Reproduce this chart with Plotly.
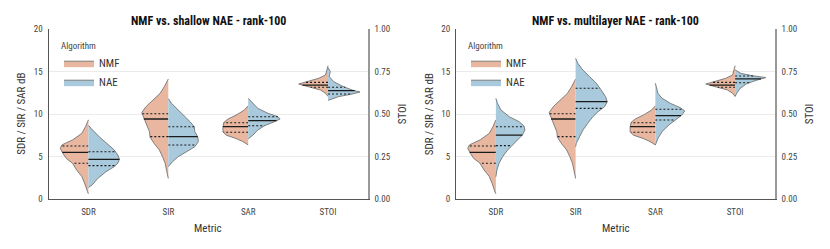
import numpy as np
import plotly.graph_objects as go

# ---------------- data ----------------
CATEGORIES = ["SDR", "SIR", "SAR", "STOI"]
ALGORITHMS = ["NMF", "NAE"]
PANEL_TITLES = ["NMF vs. shallow NAE - rank-100", "NMF vs. multilayer NAE - rank-100"]
Y_TITLE = "SDR / SIR / SAR dB"
Y2_TITLE = "STOI"
X_TITLE = "Metric"
LEGEND_TITLE = "Algorithm"
Y_TICKS = [0, 5, 10, 15, 20]
STOI_TICKS = [0.0, 0.25, 0.5, 0.75, 1.0]

# density profiles (value levels, relative density)
NMF_SDR_Y = [0.65, 0.9, 1.9, 2.7, 3.45, 4.25, 4.8, 5.4, 6.0, 6.4, 7.0, 7.75, 8.55, 9.35]
NMF_SDR_D = [0, 0.03, 0.12, 0.21, 0.37, 0.5, 0.69, 0.8, 0.88, 0.83, 0.49, 0.21, 0.09, 0]
NMF_SIR_Y = [2.45, 3.25, 4.25, 5.0, 5.8, 6.6, 7.3, 7.95, 8.75, 9.55, 10.2, 10.9, 11.7, 12.45, 13.25, 14.0, 14.15]
NMF_SIR_D = [0, 0.05, 0.1, 0.18, 0.28, 0.45, 0.57, 0.59, 0.68, 0.78, 0.83, 0.7, 0.47, 0.26, 0.125, 0.02, 0]
NMF_SAR_Y = [6.4, 6.8, 7.15, 7.55, 7.95, 8.55, 9.05, 9.45, 9.9, 10.5, 11.0]
NMF_SAR_D = [0, 0.17, 0.38, 0.69, 0.79, 0.79, 0.76, 0.63, 0.38, 0.12, 0]
NMF_STOI_Y = [0.605, 0.624, 0.643, 0.662, 0.678, 0.692, 0.712, 0.731, 0.761, 0.786]
NMF_STOI_D = [0, 0.08, 0.24, 0.6, 0.92, 0.66, 0.29, 0.08, 0.03, 0]
NMF_QUARTILES = [[4.24, 5.53, 6.27], [7.37, 9.45, 10.07], [7.88, 8.54, 9.01], [0.659, 0.672, 0.688]]

SNAE_SDR_Y = [1.4, 1.7, 2.45, 3.25, 3.85, 4.25, 4.7, 5.2, 5.8, 6.6, 7.35, 8.35, 8.7]
SNAE_SDR_D = [0, 0.12, 0.29, 0.55, 0.81, 0.92, 0.97, 0.92, 0.81, 0.55, 0.34, 0.08, 0]
SNAE_SIR_Y = [3.84, 4.42, 5.01, 5.6, 6.19, 6.78, 7.37, 7.95, 8.54, 9.13, 9.72, 10.5, 11.29, 11.85]
SNAE_SIR_D = [0, 0.13, 0.31, 0.57, 0.83, 0.94, 0.92, 0.83, 0.81, 0.68, 0.52, 0.31, 0.10, 0]
SNAE_SAR_Y = [7.1, 7.56, 8.15, 8.66, 9.13, 9.45, 9.72, 10.11, 10.7, 11.29, 11.88]
SNAE_SAR_D = [0, 0.15, 0.3, 0.51, 0.82, 1.0, 0.93, 0.62, 0.3, 0.15, 0]
SNAE_STOI_Y = [0.582, 0.604, 0.619, 0.631, 0.643, 0.666, 0.692, 0.721, 0.735, 0.751, 0.775]
SNAE_STOI_D = [0, 0.33, 0.75, 1.0, 0.75, 0.44, 0.18, 0.04, 0.05, 0.07, 0]
SNAE_QUARTILES = [[3.96, 4.7, 5.6], [6.39, 7.37, 8.54], [8.66, 9.25, 9.72], [0.619, 0.639, 0.659]]

MNAE_SDR_Y = [2.66, 3.45, 4.24, 5.01, 5.8, 6.39, 6.98, 7.56, 8.15, 8.62, 9.13, 9.72, 10.5, 11.29, 11.88]
MNAE_SDR_D = [0, 0.03, 0.1, 0.21, 0.37, 0.52, 0.68, 0.83, 0.91, 0.88, 0.73, 0.42, 0.16, 0.05, 0]
MNAE_SIR_Y = [6.19, 6.59, 7.37, 8.15, 8.94, 9.72, 10.3, 10.9, 11.48, 12.07, 12.86, 13.65, 14.42, 15.2, 16.0, 16.59]
MNAE_SIR_D = [0, 0.02, 0.125, 0.23, 0.38, 0.54, 0.7, 0.91, 0.99, 0.94, 0.8, 0.65, 0.44, 0.23, 0.07, 0]
MNAE_SAR_Y = [6.39, 7.17, 7.95, 8.74, 9.33, 9.92, 10.39, 10.78, 11.29, 11.88, 12.47, 13.06, 13.65]
MNAE_SAR_D = [0, 0.08, 0.21, 0.42, 0.63, 0.83, 0.92, 0.78, 0.47, 0.21, 0.08, 0.05, 0]
MNAE_STOI_Y = [0.605, 0.624, 0.653, 0.682, 0.702, 0.716, 0.727, 0.741, 0.761]
MNAE_STOI_D = [0, 0.05, 0.16, 0.38, 0.7, 0.96, 0.54, 0.18, 0]
MNAE_QUARTILES = [[6.31, 7.56, 8.54], [10.7, 11.48, 13.06], [9.33, 9.84, 10.59], [0.686, 0.708, 0.725]]

NMF_PROFILES = [(NMF_SDR_Y, NMF_SDR_D), (NMF_SIR_Y, NMF_SIR_D), (NMF_SAR_Y, NMF_SAR_D), (NMF_STOI_Y, NMF_STOI_D)]
SNAE_PROFILES = [(SNAE_SDR_Y, SNAE_SDR_D), (SNAE_SIR_Y, SNAE_SIR_D), (SNAE_SAR_Y, SNAE_SAR_D), (SNAE_STOI_Y, SNAE_STOI_D)]
MNAE_PROFILES = [(MNAE_SDR_Y, MNAE_SDR_D), (MNAE_SIR_Y, MNAE_SIR_D), (MNAE_SAR_Y, MNAE_SAR_D), (MNAE_STOI_Y, MNAE_STOI_D)]

# ---------------- style ----------------
FONT = "Liberation Sans Narrow, Roboto Condensed, Lato, sans-serif"
COLORS = {"NMF": "#e9b7a0", "NAE": "#a9cadd"}
EDGE = "#747474"
HALF_WIDTH = 0.4

# the page body has an 8px margin; lay the figure out in page pixels
FIG_W, FIG_H, OFF = 822, 241, 8


def px_x(x):
    return (x - OFF) / FIG_W


def px_y(y):
    return (FIG_H - (y - OFF)) / FIG_H


fig = go.Figure()

panels = [
    dict(nae=SNAE_PROFILES, nae_q=SNAE_QUARTILES, xa="x", ya="y", ya_stoi="y2", legend="legend"),
    dict(nae=MNAE_PROFILES, nae_q=MNAE_QUARTILES, xa="x2", ya="y3", ya_stoi="y4", legend="legend2"),
]

for p in panels:
    for algo, side, profiles, quarts in [("NMF", -1, NMF_PROFILES, NMF_QUARTILES),
                                         ("NAE", 1, p["nae"], p["nae_q"])]:
        for i, cat in enumerate(CATEGORIES):
            ys = np.array(profiles[i][0], dtype=float)
            ds = np.array(profiles[i][1], dtype=float)
            xs = i + side * ds * HALF_WIDTH
            px = np.concatenate([[i], xs, [i]])
            py = np.concatenate([[ys[0]], ys, [ys[-1]]])
            yaxis = p["ya_stoi"] if cat == "STOI" else p["ya"]
            fig.add_trace(go.Scatter(
                x=px, y=py, xaxis=p["xa"], yaxis=yaxis, mode="lines", fill="toself",
                fillcolor=COLORS[algo], line=dict(color=EDGE, width=0.9),
                name=algo, legendgroup=p["legend"] + algo, legend=p["legend"],
                showlegend=(i == 0), hoverinfo="skip"))
            q = quarts[i]
            for k, qv in enumerate(q):
                dq = float(np.interp(qv, ys, ds))
                fig.add_trace(go.Scatter(
                    x=[i, i + side * dq * HALF_WIDTH], y=[qv, qv], xaxis=p["xa"], yaxis=yaxis,
                    mode="lines", showlegend=False, hoverinfo="skip",
                    line=dict(color="#1a1a1a", width=1.3 if k == 1 else 1.1,
                              dash="solid" if k == 1 else "2px,2px")))

y_dom = [px_y(199.3), px_y(29.3)]
x_doms = [[px_x(48.5), px_x(368)], [px_x(456), px_x(775)]]
tickfont = dict(family=FONT, size=9, color="#444")
titlefont = dict(family=FONT, size=11, color="#333")

common_x = dict(range=[-0.5, 3.5], tickvals=list(range(len(CATEGORIES))), ticktext=CATEGORIES,
                showgrid=False, zeroline=False, showline=True, linecolor="#555", linewidth=1,
                ticks="", tickfont=tickfont, automargin=False, ticklabelstandoff=4)
common_y = dict(range=[0, 20], tickvals=Y_TICKS, showgrid=True, gridcolor="#ebebeb", gridwidth=1,
                zeroline=False, showline=True, linecolor="#555", linewidth=1, ticks="",
                tickfont=tickfont, domain=y_dom, automargin=False, ticklabelstandoff=3)
common_y2 = dict(range=[0, 1], tickvals=STOI_TICKS, tickformat=".2f", showgrid=False, zeroline=False,
                 showline=True, linecolor="#999", linewidth=1.5, ticks="", side="right", tickfont=tickfont,
                 automargin=False, ticklabelstandoff=3)

legend_common = dict(xanchor="left", yanchor="top", bgcolor="rgba(0,0,0,0)",
                     font=dict(family=FONT, size=11, color="#333"), tracegroupgap=0,
                     title=dict(text=LEGEND_TITLE, font=dict(family=FONT, size=9, color="#444")))

fig.update_layout(
    template="plotly_white",
    width=FIG_W, height=FIG_H, margin=dict(l=0, r=0, t=0, b=0, autoexpand=False),
    paper_bgcolor="white", plot_bgcolor="white",
    xaxis=dict(domain=x_doms[0], anchor="y", **common_x),
    yaxis=dict(anchor="x", **common_y),
    yaxis2=dict(anchor="x", overlaying="y", **common_y2),
    xaxis2=dict(domain=x_doms[1], anchor="y3", **common_x),
    yaxis3=dict(anchor="x2", **common_y),
    yaxis4=dict(anchor="x2", overlaying="y3", **common_y2),
    legend=dict(x=px_x(59), y=px_y(37), **legend_common),
    legend2=dict(x=px_x(466), y=px_y(37), **legend_common),
    showlegend=True,
)

for k, t in enumerate(PANEL_TITLES):
    xd = x_doms[k]
    xc = (xd[0] + xd[1]) / 2
    fig.add_annotation(text="<b>" + t + "</b>", x=xc, y=px_y(20.7),
                       xref="paper", yref="paper", xanchor="center", yanchor="middle",
                       showarrow=False, font=dict(family=FONT, size=12, color="#111"))
    fig.add_annotation(text=X_TITLE, x=xc, y=px_y(228),
                       xref="paper", yref="paper", xanchor="center", yanchor="middle",
                       showarrow=False, font=titlefont)
    fig.add_annotation(text=Y_TITLE, x=xd[0] - 27 / FIG_W, y=(y_dom[0] + y_dom[1]) / 2,
                       xref="paper", yref="paper", xanchor="center", yanchor="middle",
                       textangle=-90, showarrow=False, font=titlefont)
    fig.add_annotation(text=Y2_TITLE, x=xd[1] + 34 / FIG_W, y=(y_dom[0] + y_dom[1]) / 2,
                       xref="paper", yref="paper", xanchor="center", yanchor="middle",
                       textangle=-90, showarrow=False, font=titlefont)

fig.write_html("out.html")
